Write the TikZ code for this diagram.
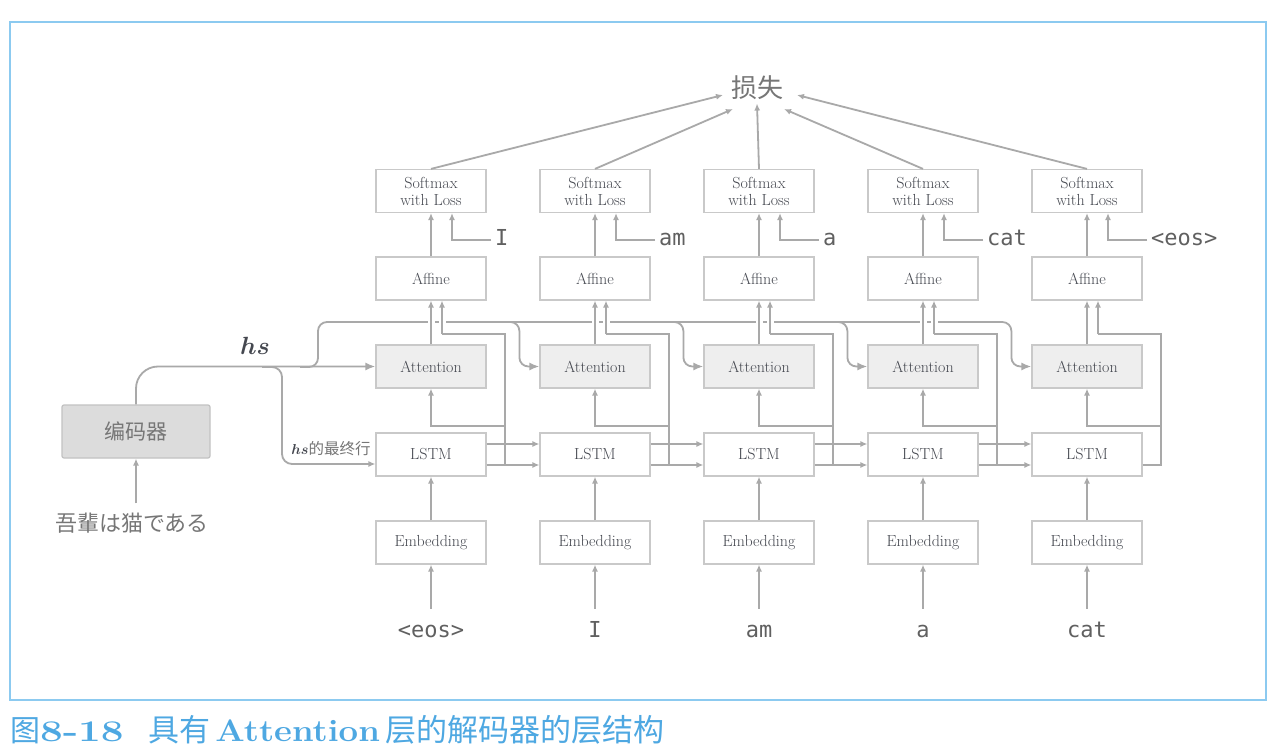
\documentclass[tikz,border=0pt]{standalone}
\usepackage{fontspec}
\usepackage{bm}
\newfontfamily\cjk{Noto Sans CJK SC}
\newfontfamily\cjkjp{Noto Sans CJK JP}
\newfontfamily\monof{DejaVu Sans Mono}
\usetikzlibrary{arrows.meta,calc}
\definecolor{ln}{HTML}{A9A9A9}
\definecolor{bd}{HTML}{C9C9C9}
\definecolor{tx}{HTML}{454850}
\definecolor{attfill}{HTML}{EEEEEE}
\definecolor{encfill}{HTML}{DCDCDC}
\definecolor{encbd}{HTML}{C2C2C2}
\definecolor{framec}{HTML}{8CCAF0}
\definecolor{capc}{HTML}{4EA8E2}
\definecolor{lbl}{HTML}{606060}
\definecolor{cjkgray}{HTML}{767676}
\tikzset{
  box/.style={draw=bd, line width=1.2, fill=white, minimum width=110, minimum height=43,
    inner sep=0, font=\fontsize{16}{17}\selectfont, text=tx, align=center},
  attbox/.style={box, fill=attfill},
  conn/.style={draw=ln, line width=1.8, -{Latex[length=7,width=6]}},
  bigconn/.style={draw=ln, line width=1.8, -{Latex[length=10,width=8]}},
  plain/.style={draw=ln, line width=1.8},
  word/.style={font=\monof\fontsize{22}{24}\selectfont, text=lbl, inner sep=2, text height=16, text depth=4},
  gap/.style={preaction={draw=white, line width=7, -, shorten >=4, shorten <=4}},
}
\begin{document}
\begin{tikzpicture}[x=1pt,y=-1pt]
\useasboundingbox (0,0) rectangle (1278,754);
\fill[white] (0,0) rectangle (1278,754);
\draw[framec, line width=2.5] (10,22) rectangle (1266,700);

% caption
\node[anchor=base west, text=capc, inner sep=0] (cap1) at (10,741)
  {\cjk\fontsize{30}{32}\selectfont 图\rmfamily\bfseries\scalebox{1.35}[1]{8-18}};
\node[anchor=base west, text=capc, inner sep=0] (cap2) at (148,741)
  {\cjk\fontsize{31}{33}\selectfont 具有\,{\rmfamily\bfseries\scalebox{1.12}[1]{Attention}}\,层的解码器的层结构};

% loss
\node[font=\cjk\fontsize{26}{28}\selectfont, text=cjkgray] (loss) at (757,88) {损失};

% encoder
\node[draw=encbd, line width=1.2, fill=encfill, rounded corners=2, minimum width=148, minimum height=53,
  font=\cjk\fontsize{21}{23}\selectfont, text=cjkgray] (enc) at (136,431.5) {编码器};
\node[font=\cjkjp\fontsize{22}{24}\selectfont, text=cjkgray] (jp) at (132,523) {吾輩は猫である};
\draw[conn] ([yshift=6pt]enc.south |- jp.north) -- (enc.south);

% columns
\foreach \i/\top/\bot in {1/I/<eos>, 2/am/I, 3/a/am, 4/cat/a, 5/<eos>/cat}{
  \pgfmathsetmacro\cx{431+164*(\i-1)}
  \node[box] (sm\i) at (\cx,191) {Softmax\\with Loss};
  \node[box] (aff\i) at (\cx,278.5) {Affine};
  \node[attbox] (att\i) at (\cx,366.5) {Attention};
  \node[box] (lstm\i) at (\cx,454.5) {LSTM};
  \node[box] (emb\i) at (\cx,542.5) {Embedding};
  \node[word] (w\i) at (\cx,631) {\bot};
  \node[word, anchor=west] (t\i) at (\cx+62,240) {\top};
  \draw[conn] ([yshift=10pt]w\i.north) -- (emb\i.south);
  \draw[conn] (emb\i.north) -- (lstm\i.south);
  \draw[conn] (aff\i.north) -- (sm\i.south);
  \draw[conn] ([xshift=-2pt]t\i.west) -| ($(sm\i.south)+(21,0)$);
}

% hs lines
\draw[bigconn, rounded corners=22] (enc.north) |- (att1.west);
\node[text=tx, font=\fontsize{24}{26}\selectfont] (hs) at (255,346) {$\bm{hs}$};
\draw[conn, rounded corners=10] (262,367) -- (282,367) -- (282,464) -- ($(lstm1.west)+(0,9.5)$);
\node[text=tx, inner sep=0] (hslast) at (331,449)
  {\fontsize{15.5}{17}\selectfont$\bm{hs}${\cjk\color{cjkgray}的最终行}};
\draw[bigconn, rounded corners=9] (300,367) -- (318,367) -- (318,322)
  -- ($(att5.west)+(-20,-44.5)$) -- ($(att5.west)+(-20,0)$) -- (att5.west);
\foreach \i in {2,3,4}{
  \draw[bigconn, rounded corners=9] ($(att\i.west)+(-32,-44.5)$) -- ($(att\i.west)+(-20,-44.5)$)
    -- ($(att\i.west)+(-20,0)$) -- (att\i.west);
}

% LSTM chain
\foreach \i/\j in {1/2,2/3,3/4,4/5}{
  \draw[conn] ($(lstm\i.east)+(0,-10.5)$) -- ($(lstm\j.west)+(0,-10.5)$);
  \draw[conn] ($(lstm\i.east)+(0,10.5)$) -- ($(lstm\j.west)+(0,10.5)$);
}
\draw[plain] ($(lstm5.east)+(0,10.5)$) -- (1161,465);

% hidden state to attention and affine
\foreach \i in {1,...,5}{
  \pgfmathsetmacro\cx{431+164*(\i-1)}
  \draw[plain] (\cx+74,465.9) -- (\cx+74,334) -- (\cx+11,334);
  \draw[conn] (\cx+74,426) -| (att\i.south);
  \draw[conn, gap] (\cx+11,334) -- ($(aff\i.south)+(11,0)$);
  \draw[conn, gap] (att\i.north) -- (aff\i.south);
}

% to loss
\draw[conn] (sm1.north) -- ($(loss.center)+(-34,7)$);
\draw[conn] (sm2.north) -- ($(loss.center)+(-24,21)$);
\draw[conn] (sm3.north) -- (loss.south);
\draw[conn] (sm4.north) -- ($(loss.center)+(27,21)$);
\draw[conn] (sm5.north) -- ($(loss.center)+(40,7)$);
\end{tikzpicture}
\end{document}
